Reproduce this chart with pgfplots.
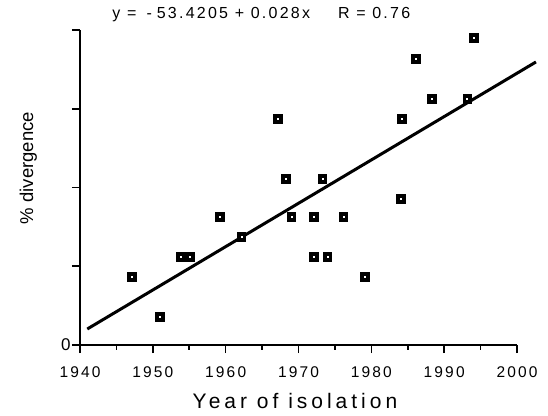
\documentclass[border=0pt]{standalone}
\usepackage{pgfplots}
\pgfplotsset{compat=1.18}
\usepackage{fontspec}
\setmainfont{Liberation Sans}
\newfontfamily\spaced[LetterSpace=14]{Liberation Sans}
\newfontfamily\wspaced[LetterSpace=19]{Liberation Sans}
\begin{document}
\begin{tikzpicture}
\path[use as bounding box] (0,0) rectangle (548pt,415pt);
\begin{axis}[
  at={(80pt,70pt)}, anchor=south west,
  scale only axis, width=437pt, height=315pt,
  xmin=1940, xmax=2000, ymin=0, ymax=2,
  clip=false,
  axis x line=bottom, axis y line=left,
  axis line style={-, line width=1.8pt},
  xtick={1940,1950,...,2000},
  minor xtick={1945,1955,...,1995},
  ytick={0,0.5,1,1.5,2},
  yticklabels={0,,,,},
  tick align=outside,
  major tick length=8pt, minor tick length=4.5pt,
  every tick/.style={line width=1.6pt, black},
  /pgf/number format/assume math mode=true,
  /pgf/number format/1000 sep={},
  xticklabel style={font=\fontsize{15.5}{16}\spaced, anchor=base, yshift=-24pt},
  yticklabel style={font=\fontsize{17}{18}\selectfont, anchor=east, xshift=2pt},
  title={\fontsize{16}{18}\spaced y =\hspace{10pt}-\hspace{5pt}53.4205 + 0.028x\hspace{28pt}R = 0.76},
  title style={at={(axis description cs:0.415,1.016)}, anchor=base},
  xlabel={\fontsize{21}{24}\wspaced Year of isolation},
  xlabel style={at={(axis description cs:0.492,-0.203)}, anchor=base},
  ylabel={\fontsize{18.5}{20}\selectfont \% divergence},
  every axis y label/.style={at={(axis description cs:-0.1075,0.562)}, rotate=90, anchor=base},
]
\addplot[only marks, mark=square*, mark size=2.9pt,
  mark options={draw=black, fill=white, line width=3.8pt}]
  coordinates {
  (1947.1,0.432) (1951.0,0.178) (1953.9,0.559) (1955.1,0.559)
  (1959.2,0.813) (1962.2,0.686) (1967.2,1.435) (1968.3,1.054)
  (1969.05,0.813) (1972.1,0.813) (1972.1,0.559) (1973.3,1.054)
  (1974.0,0.559) (1976.2,0.813) (1979.1,0.432) (1984.2,1.435)
  (1984.1,0.927) (1986.1,1.816) (1988.3,1.562) (1993.2,1.562)
  (1994.1,1.949)
  };
\addplot[line width=3pt, black] coordinates {(1941,0.1016) (2002.6,1.797)};
\end{axis}
\end{tikzpicture}
\end{document}
